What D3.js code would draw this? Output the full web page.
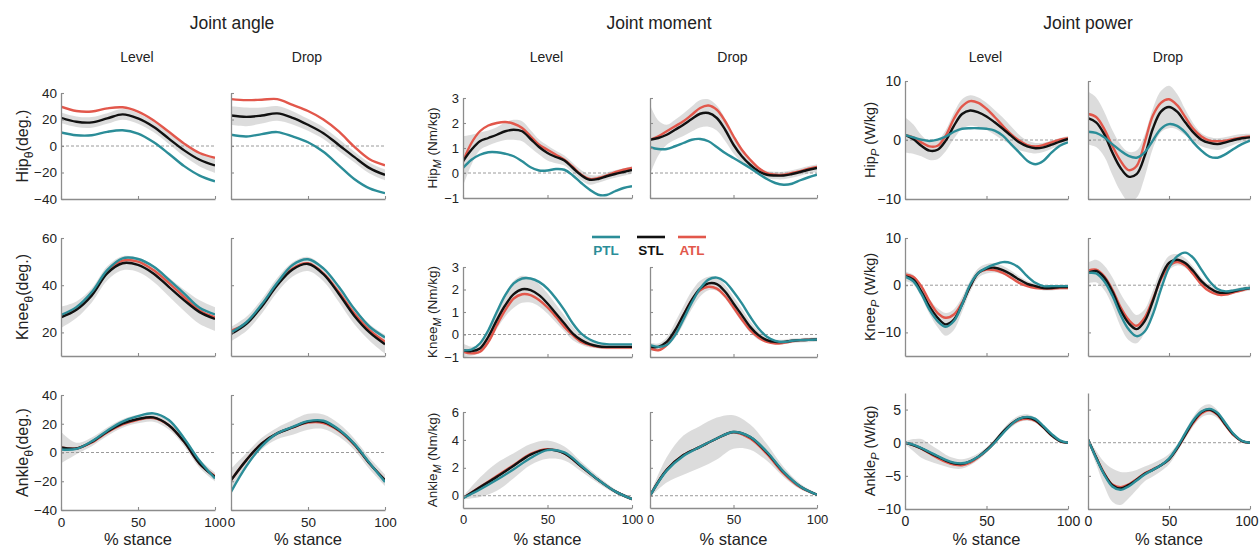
<!DOCTYPE html>
<html>
<head>
<meta charset="utf-8">
<title>Joint angle, moment and power</title>
<script src="https://d3js.org/d3.v7.min.js"></script>
<style>
  body { margin: 0; background: #fff; }
  text { font-family: "Liberation Sans", Arial, sans-serif; fill: #222; }
</style>
</head>
<body>
<svg width="1259" height="549"></svg>
<script>
// % stance sample points
const pct10 = [0, 10, 20, 30, 40, 50, 60, 70, 80, 90, 100];
const pct5 = [0, 5, 10, 15, 20, 25, 30, 35, 40, 45, 50, 55, 60, 65, 70, 75, 80, 85, 90, 95, 100];

// ---- joint angle (deg.) ----
const hipAngLevel = {
  x: pct10,
  ATL: [29.7, 26.4, 26, 28.4, 29.2, 26, 19.5, 10.7, 1.8, -5.3, -8.9],
  STL: [21.3, 18.3, 17.8, 20.8, 23.9, 20.8, 14.5, 5.6, -3.3, -10.4, -14.7],
  PTL: [10.2, 8.1, 8.1, 10.7, 11.9, 9.4, 3, -5.8, -15.2, -22.3, -26.6],
  SD:  [4, 4, 4, 4, 4, 4, 4, 4, 4.5, 5, 5.5]
};
const hipAngDrop = {
  x: pct10,
  ATL: [35.4, 34.6, 34.9, 35.4, 31, 26.4, 20, 11, -0.5, -10, -14.6],
  STL: [23, 22, 23, 24.6, 21.3, 16, 9.7, 0.8, -8.2, -16.7, -21.8],
  PTL: [8.5, 7.2, 9, 10.5, 7.2, 2.8, -4.4, -14.6, -24.9, -32, -35.6],
  SD:  [7, 7, 6, 5.5, 5, 4.5, 4.5, 4.5, 4, 4, 4]
};
const kneeAngLevel = {
  x: pct10,
  ATL: [26.7, 29.9, 36.2, 45.6, 50.4, 50, 46.4, 41, 35, 29.3, 26.4],
  STL: [26.4, 29.6, 35.7, 45, 49.3, 48.6, 45, 39.3, 33.6, 28.6, 25.7],
  PTL: [27.4, 30.7, 37.1, 46.4, 51.4, 51.1, 47.9, 42.4, 36.4, 30.4, 27.6],
  SD:  [4.5, 3.5, 3, 3, 3, 3, 3.5, 4, 4.5, 5, 5]
};
const kneeAngDrop = {
  x: pct10,
  ATL: [20.7, 24, 31.5, 40.5, 47.1, 49.3, 45, 37.1, 28.1, 21, 16.1],
  STL: [19.3, 23.6, 31, 40, 46.7, 49, 44.7, 36.4, 27.1, 20, 15],
  PTL: [20, 24.3, 31.9, 41, 48.6, 51, 47.1, 39.3, 30, 22.4, 17.9],
  SD:  [3, 3, 3, 3, 3, 3, 3, 3.5, 3.5, 3.5, 4]
};
const ankleAngLevel = {
  x: pct10,
  ATL: [3.5, 2.8, 7.0, 14.0, 19.5, 22.8, 24, 19, 7.4, -7.7, -16.5],
  STL: [3.5, 2.8, 7.4, 14.4, 20.2, 23.3, 24.4, 19, 7.4, -7.7, -17],
  PTL: [2.1, 2.5, 7.8, 15.2, 21.5, 25.3, 27.2, 22.6, 9.8, -5.8, -18.1],
  SD:  [11, 4, 3, 3, 3, 3, 3, 3, 3, 3, 3]
};
const ankleAngDrop = {
  x: pct10,
  ATL: [-19.3, -5.3, 6.3, 13.3, 17.4, 20.8, 20.5, 15.2, 5.5, -7.7, -19.3],
  STL: [-19.3, -5.3, 6.3, 13.3, 17.4, 21.4, 21.4, 15.6, 5.8, -7.7, -19.3],
  PTL: [-27.4, -9.5, 4.4, 13.3, 17.8, 21.8, 22.1, 16, 6.2, -7.3, -20.5],
  SD:  [8, 5, 4, 4, 5, 5.5, 5, 4.5, 4, 4, 4]
};

// ---- joint moment (Nm/kg) ----
const hipMomLevel = {
  x: pct5,
  ATL: [0.47, 1.2, 1.67, 1.9, 2.0, 2.04, 1.97, 1.8, 1.47, 1.13, 0.93, 0.73, 0.53, 0.24, -0.07, -0.24, -0.2, -0.1, 0.03, 0.13, 0.2],
  STL: [0.47, 0.93, 1.27, 1.4, 1.53, 1.67, 1.73, 1.67, 1.36, 1.04, 0.8, 0.64, 0.5, 0.2, -0.09, -0.27, -0.24, -0.13, -0.04, 0.04, 0.12],
  PTL: [0.2, 0.53, 0.73, 0.83, 0.83, 0.77, 0.67, 0.47, 0.23, 0.1, 0.1, 0.16, 0.13, -0.1, -0.4, -0.67, -0.87, -0.88, -0.73, -0.6, -0.53],
  SD:  [1.0, 0.6, 0.35, 0.3, 0.3, 0.35, 0.4, 0.4, 0.35, 0.3, 0.3, 0.25, 0.2, 0.2, 0.2, 0.2, 0.15, 0.15, 0.15, 0.15, 0.15]
};
const hipMomDrop = {
  x: pct5,
  ATL: [1.33, 1.47, 1.67, 1.87, 2.07, 2.33, 2.6, 2.7, 2.53, 2.07, 1.47, 0.93, 0.53, 0.2, 0, -0.07, -0.07, 0, 0.07, 0.17, 0.24],
  STL: [1.33, 1.4, 1.53, 1.73, 1.93, 2.16, 2.37, 2.4, 2.2, 1.73, 1.13, 0.67, 0.33, 0.07, -0.07, -0.1, -0.1, -0.04, 0.04, 0.13, 0.2],
  PTL: [1.03, 0.96, 0.96, 1.07, 1.2, 1.33, 1.36, 1.27, 1.04, 0.8, 0.6, 0.4, 0.2, -0.03, -0.24, -0.4, -0.47, -0.43, -0.29, -0.17, -0.07],
  SD:  [1.4, 0.7, 0.4, 0.4, 0.45, 0.5, 0.55, 0.55, 0.5, 0.45, 0.35, 0.25, 0.2, 0.15, 0.15, 0.15, 0.15, 0.15, 0.15, 0.15, 0.15]
};
const kneeMomLevel = {
  x: pct5,
  ATL: [-0.77, -0.84, -0.77, -0.33, 0.41, 1.08, 1.6, 1.79, 1.75, 1.53, 1.2, 0.79, 0.34, -0.03, -0.33, -0.47, -0.55, -0.58, -0.58, -0.58, -0.58],
  STL: [-0.7, -0.74, -0.62, -0.1, 0.64, 1.3, 1.79, 2.01, 1.97, 1.75, 1.38, 0.93, 0.49, 0.04, -0.25, -0.43, -0.52, -0.55, -0.55, -0.55, -0.55],
  PTL: [-0.7, -0.67, -0.4, 0.19, 1.0, 1.75, 2.27, 2.49, 2.49, 2.34, 2.04, 1.6, 1.08, 0.49, 0.04, -0.22, -0.37, -0.43, -0.44, -0.44, -0.44],
  SD:  [0.3, 0.2, 0.2, 0.3, 0.4, 0.5, 0.6, 0.6, 0.55, 0.5, 0.45, 0.4, 0.35, 0.3, 0.2, 0.15, 0.1, 0.1, 0.1, 0.1, 0.1]
};
const kneeMomDrop = {
  x: pct5,
  ATL: [-0.62, -0.7, -0.47, 0.12, 0.86, 1.53, 1.97, 2.12, 2.04, 1.7, 1.2, 0.67, 0.19, -0.13, -0.33, -0.4, -0.37, -0.3, -0.25, -0.23, -0.22],
  STL: [-0.55, -0.55, -0.33, 0.19, 0.86, 1.53, 2.04, 2.27, 2.24, 1.9, 1.38, 0.86, 0.34, -0.03, -0.25, -0.33, -0.33, -0.28, -0.25, -0.24, -0.22],
  PTL: [-0.47, -0.55, -0.47, -0.03, 0.67, 1.41, 2.04, 2.44, 2.53, 2.34, 1.9, 1.38, 0.79, 0.27, -0.1, -0.28, -0.33, -0.28, -0.25, -0.24, -0.22],
  SD:  [0.2, 0.15, 0.2, 0.35, 0.4, 0.4, 0.35, 0.3, 0.3, 0.3, 0.3, 0.3, 0.25, 0.2, 0.1, 0.1, 0.1, 0.1, 0.1, 0.1, 0.1]
};
const ankleMomLevel = {
  x: pct10,
  ATL: [-0.17, 0.62, 1.42, 2.2, 3.0, 3.34, 3.03, 2.09, 1.14, 0.31, -0.24],
  STL: [-0.17, 0.6, 1.35, 2.15, 2.95, 3.3, 3.03, 2.09, 1.14, 0.31, -0.24],
  PTL: [-0.17, 0.45, 1.14, 1.9, 2.7, 3.27, 3.1, 2.15, 1.14, 0.31, -0.24],
  SD:  [0.1, 0.7, 1.0, 0.9, 0.75, 0.65, 0.5, 0.35, 0.25, 0.15, 0.1]
};
const ankleMomDrop = {
  x: pct10,
  ATL: [0, 1.85, 2.91, 3.5, 4.1, 4.55, 4.1, 3.0, 1.6, 0.6, 0.07],
  STL: [0, 1.85, 2.91, 3.5, 4.1, 4.57, 4.2, 3.1, 1.7, 0.66, 0.07],
  PTL: [0, 1.8, 2.85, 3.5, 4.1, 4.57, 4.22, 3.15, 1.73, 0.66, 0.07],
  SD:  [0.1, 0.9, 1.4, 1.5, 1.5, 1.2, 0.9, 0.6, 0.35, 0.2, 0.1]
};

// ---- joint power (W/kg) ----
const hipPowLevel = {
  x: pct5,
  ATL: [0.85, 0.45, -0.4, -1.08, -0.97, 0.74, 3.6, 5.7, 6.6, 6.3, 5.3, 3.9, 2.4, 1.0, -0.1, -0.85, -1.08, -0.85, -0.4, 0.06, 0.3],
  STL: [0.85, 0.17, -0.97, -1.8, -1.65, -0.1, 2.4, 4.4, 5.0, 4.7, 4.0, 3.0, 1.9, 0.74, -0.4, -1.08, -1.4, -1.25, -0.8, -0.28, 0.17],
  PTL: [0.85, 0.45, 0.06, -0.17, 0.06, 0.6, 1.4, 1.9, 2.0, 2.0, 1.9, 1.6, 0.74, -0.7, -2.1, -3.5, -4.1, -3.5, -2.1, -0.97, -0.4],
  SD:  [3, 2.5, 1.8, 1.6, 1.6, 1.8, 2.2, 2.5, 2.6, 2.5, 2.3, 2.1, 1.9, 1.6, 1.3, 1.0, 0.9, 0.8, 0.7, 0.6, 0.5]
};
const hipPowDrop = {
  x: pct5,
  ATL: [4.4, 3.9, 1.9, -1.0, -3.5, -5.1, -4.4, -0.4, 4.1, 6.3, 6.9, 5.9, 3.9, 1.9, 0.6, -0.1, -0.2, -0.1, 0.17, 0.45, 0.6],
  STL: [3.7, 3.0, 1.0, -2.1, -4.7, -6.2, -5.8, -2.7, 1.9, 4.8, 5.6, 4.8, 3.0, 1.3, 0.06, -0.5, -0.7, -0.4, 0, 0.3, 0.45],
  PTL: [1.4, 1.2, 0.45, -0.7, -1.8, -2.7, -3.0, -2.1, -0.1, 1.9, 2.7, 2.4, 1.3, -0.4, -1.8, -2.8, -3.0, -2.4, -1.5, -0.7, -0.1],
  SD:  [4.5, 4.2, 3.8, 3.8, 4.0, 4.2, 4.0, 3.6, 3.4, 3.5, 3.6, 3.0, 2.2, 1.5, 1.1, 1.0, 1.0, 0.9, 0.8, 0.7, 0.6]
};
const kneePowLevel = {
  x: pct5,
  ATL: [2.3, 1.8, -0.2, -3.4, -5.9, -6.9, -6.2, -3.7, -0.2, 2.6, 3.3, 3.2, 2.6, 1.6, 0.5, -0.2, -0.6, -0.7, -0.7, -0.6, -0.6],
  STL: [1.9, 1.2, -1.3, -4.5, -6.9, -8.3, -7.3, -4.1, -0.2, 2.6, 3.5, 3.7, 3.2, 2.3, 1.2, 0.3, -0.2, -0.6, -0.6, -0.4, -0.4],
  PTL: [1.8, 0.85, -1.8, -5.2, -7.6, -8.8, -7.6, -4.1, 0.14, 2.6, 3.7, 4.4, 4.9, 4.7, 3.7, 1.9, 0.5, -0.2, -0.2, -0.2, -0.2],
  SD:  [1.0, 1.0, 1.2, 1.6, 2.0, 2.4, 2.2, 1.6, 1.2, 1.0, 1.0, 1.0, 0.9, 0.8, 0.7, 0.6, 0.5, 0.5, 0.5, 0.5, 0.5]
};
const kneePowDrop = {
  x: pct5,
  ATL: [3.1, 3.3, 1.9, -0.9, -4.6, -7.3, -8.6, -6.9, -3.0, 1.2, 4.0, 4.9, 4.2, 2.3, 0.14, -1.3, -2.0, -2.0, -1.5, -1.1, -0.6],
  STL: [2.6, 3.0, 1.6, -1.3, -5.2, -8.0, -9.3, -7.6, -3.4, 1.6, 4.7, 5.4, 4.7, 3.0, 0.85, -0.6, -1.5, -1.6, -1.3, -0.9, -0.6],
  PTL: [2.6, 2.5, 0.85, -2.2, -6.2, -9.3, -10.8, -9.8, -6.2, -0.9, 3.7, 6.1, 6.9, 5.8, 3.3, 0.85, -0.8, -1.3, -1.1, -0.8, -0.6],
  SD:  [2.2, 2.4, 2.6, 3.0, 3.5, 3.6, 3.0, 2.5, 2.2, 1.8, 1.5, 1.2, 1.0, 0.9, 0.8, 0.7, 0.6, 0.5, 0.5, 0.5, 0.5]
};
const anklePowLevel = {
  x: pct5,
  ATL: [0, -0.35, -0.9, -1.6, -2.3, -2.9, -3.3, -3.4, -3.0, -2.2, -1.2, 0.05, 1.5, 2.7, 3.4, 3.6, 3.3, 2.3, 1.1, 0.25, 0],
  STL: [0, -0.35, -0.85, -1.5, -2.1, -2.7, -3.1, -3.2, -2.8, -2.1, -1.1, 0.15, 1.6, 2.8, 3.6, 3.8, 3.4, 2.3, 1.1, 0.25, 0],
  PTL: [0, -0.3, -0.8, -1.4, -2.0, -2.6, -3.0, -3.1, -2.8, -2.1, -1.2, 0.0, 1.4, 2.7, 3.6, 3.9, 3.6, 2.5, 1.3, 0.35, 0],
  SD:  [0.2, 0.9, 1.4, 1.3, 1.1, 0.9, 0.8, 0.7, 0.6, 0.5, 0.4, 0.4, 0.4, 0.5, 0.5, 0.5, 0.4, 0.3, 0.3, 0.2, 0.2]
};
const anklePowDrop = {
  x: pct5,
  ATL: [0.5, -2.2, -4.6, -6.3, -6.7, -6.3, -5.5, -4.6, -4.0, -3.4, -2.5, -0.9, 1.1, 3.0, 4.4, 4.9, 4.2, 2.6, 1.1, 0.25, 0],
  STL: [0.5, -2.2, -4.7, -6.4, -6.9, -6.4, -5.6, -4.7, -4.1, -3.4, -2.5, -0.85, 1.2, 3.2, 4.6, 5.0, 4.3, 2.7, 1.2, 0.25, 0],
  PTL: [0.5, -2.3, -4.8, -6.6, -7.1, -6.6, -5.7, -4.8, -4.1, -3.4, -2.4, -0.7, 1.4, 3.4, 4.7, 5.1, 4.5, 2.9, 1.3, 0.3, 0],
  SD:  [0.3, 1.0, 1.8, 2.5, 2.5, 2.0, 1.5, 1.1, 1.0, 0.9, 0.8, 0.6, 0.6, 0.7, 0.8, 0.8, 0.6, 0.4, 0.3, 0.2, 0.2]
};

// labels and axes
const groupTitles = ['Joint angle', 'Joint moment', 'Joint power'];
const condNames = ['Level', 'Drop'];
const joints = ['Hip', 'Knee', 'Ankle'];
const groupSub = ['θ', 'M', 'P'];
const groupUnits = ['(deg.)', '(Nm/kg)', '(W/kg)'];
const groups = ['PTL', 'STL', 'ATL'];
const xTicks = [0, 50, 100];

const yDomains = [
  [[-40, 40], [10, 60], [-40, 40]],
  [[-1, 3], [-1, 3], [-0.88, 6]],
  [[-10, 10], [-15, 10], [-10, 7.5]]
];
const yTicks = [
  [[-40, -20, 0, 20, 40], [20, 40, 60], [-40, -20, 0, 20, 40]],
  [[-1, 0, 1, 2, 3], [-1, 0, 1, 2, 3], [0, 2, 4, 6]],
  [[-10, 0, 10], [-10, 0, 10], [-10, -5, 0, 5]]
];
const panelData = [
  [[hipAngLevel, hipAngDrop], [kneeAngLevel, kneeAngDrop], [ankleAngLevel, ankleAngDrop]],
  [[hipMomLevel, hipMomDrop], [kneeMomLevel, kneeMomDrop], [ankleMomLevel, ankleMomDrop]],
  [[hipPowLevel, hipPowDrop], [kneePowLevel, kneePowDrop], [anklePowLevel, anklePowDrop]]
];

// layout (pixels)
const colX = [
  [[61, 215], [231, 385]],
  [[463, 632], [650, 817]],
  [[905, 1068], [1088, 1250]]
];
const rowY = [
  [[93, 199], [238, 356], [395, 510]],
  [[98, 198], [267, 357], [412, 508]],
  [[81, 199], [238, 356], [393, 509]]
];
const titleX = [232, 659, 1088];
const ylabX = [28, 437, 875];
const ylabSize = [16, 13.5, 14.5];
const tickSize = [13.5, 13, 14];

const colors = { PTL: '#2b8d98', STL: '#111111', ATL: '#e2574b' };
const axisColor = '#8c8c8c';

const svg = d3.select('svg');
const defs = svg.append('defs');

groupTitles.forEach((t, g) => {
  svg.append('text')
    .attr('x', titleX[g]).attr('y', 29)
    .attr('text-anchor', 'middle')
    .style('font-size', '17.5px')
    .text(t);

  condNames.forEach((c, ci) => {
    const [x0, x1] = colX[g][ci];
    svg.append('text')
      .attr('x', (x0 + x1) / 2 - 1).attr('y', 62)
      .attr('text-anchor', 'middle')
      .style('font-size', '14px')
      .text(c);
  });

  joints.forEach((jn, r) => {
    const [y0, y1] = rowY[g][r];

    // y label
    const lab = svg.append('text')
      .attr('transform', `translate(${ylabX[g]},${(y0 + y1) / 2}) rotate(-90)`)
      .attr('text-anchor', 'middle')
      .style('font-size', ylabSize[g] + 'px');
    lab.append('tspan').text(jn);
    lab.append('tspan')
      .attr('dy', ylabSize[g] * 0.3)
      .style('font-size', (ylabSize[g] * 0.78) + 'px')
      .style('font-style', g === 0 ? 'normal' : 'italic')
      .text(groupSub[g]);
    lab.append('tspan')
      .attr('dy', -ylabSize[g] * 0.3)
      .text(g === 0 ? groupUnits[g] : ' ' + groupUnits[g]);

    condNames.forEach((c, ci) => {
      const [x0, x1] = colX[g][ci];
      const d = panelData[g][r][ci];
      const x = d3.scaleLinear().domain([0, 100]).range([x0, x1]);
      const y = d3.scaleLinear().domain(yDomains[g][r]).range([y1, y0]);
      const id = `clip-${g}-${r}-${ci}`;
      defs.append('clipPath').attr('id', id)
        .append('rect').attr('x', x0).attr('y', y0)
        .attr('width', x1 - x0).attr('height', y1 - y0);

      const panel = svg.append('g');
      const plot = panel.append('g').attr('clip-path', `url(#${id})`);
      const curve = d3.curveCatmullRom.alpha(0.5);

      // sd band round STL
      const area = d3.area()
        .x((v, i) => x(d.x[i]))
        .y0((v, i) => y(d.STL[i] - v))
        .y1((v, i) => y(d.STL[i] + v))
        .curve(curve);
      plot.append('path')
        .attr('d', area(d.SD))
        .attr('fill', '#d6d6d6')
        .attr('opacity', 0.85);

      // zero line
      const [dmin, dmax] = yDomains[g][r];
      if (dmin < 0 && dmax > 0) {
        plot.append('line')
          .attr('x1', x(0)).attr('x2', x(100))
          .attr('y1', y(0)).attr('y2', y(0))
          .attr('stroke', '#9a9a9a')
          .attr('stroke-width', 1)
          .attr('stroke-dasharray', '3,2');
      }

      const line = d3.line()
        .x((v, i) => x(d.x[i]))
        .y(v => y(v))
        .curve(curve);
      ['ATL', 'STL', 'PTL'].forEach(k => {
        plot.append('path')
          .attr('d', line(d[k]))
          .attr('fill', 'none')
          .attr('stroke', colors[k])
          .attr('stroke-width', 2.4)
          .attr('stroke-linejoin', 'round');
      });

      // axes, MATLAB style ticks pointing inwards
      const yAxis = d3.axisLeft(y)
        .tickValues(yTicks[g][r])
        .tickSizeInner(-3).tickSizeOuter(0)
        .tickPadding(4)
        .tickFormat(ci === 0 ? d3.format('') : () => '');
      const ya = panel.append('g').attr('transform', `translate(${x0},0)`).call(yAxis);

      const xAxis = d3.axisBottom(x)
        .tickValues(xTicks)
        .tickSizeInner(-3).tickSizeOuter(0)
        .tickPadding(7)
        .tickFormat(r === 2 ? d3.format('') : () => '');
      const xa = panel.append('g').attr('transform', `translate(0,${y1})`).call(xAxis);

      [ya, xa].forEach(a => {
        a.select('.domain').attr('stroke', axisColor).attr('stroke-width', 1.3);
        a.selectAll('.tick line').attr('stroke', axisColor).attr('stroke-width', 1.1);
        a.selectAll('.tick text')
          .attr('fill', '#1a1a1a')
          .style('font-family', '"Liberation Sans", Arial, sans-serif')
          .style('font-size', tickSize[g] + 'px');
      });

      // keep the last "100" inside the page
      if (r === 2 && g === 2 && ci === 1) {
        xa.selectAll('.tick text').filter(v => v === 100)
          .attr('text-anchor', 'end').attr('dx', 8);
      }

      if (r === 2) {
        svg.append('text')
          .attr('x', (x0 + x1) / 2).attr('y', 545)
          .attr('text-anchor', 'middle')
          .style('font-size', '16.5px')
          .text('% stance');
      }
    });
  });
});

// legend between hip and knee moment rows
const legendX = [606, 651, 692];
groups.forEach((k, i) => {
  svg.append('line')
    .attr('x1', legendX[i] - 14).attr('x2', legendX[i] + 14)
    .attr('y1', 237).attr('y2', 237)
    .attr('stroke', colors[k]).attr('stroke-width', 2.6);
  svg.append('text')
    .attr('x', legendX[i]).attr('y', 255)
    .attr('text-anchor', 'middle')
    .style('font-size', '13.5px')
    .style('font-weight', '600')
    .style('fill', colors[k])
    .text(k);
});
</script>
</body>
</html>
